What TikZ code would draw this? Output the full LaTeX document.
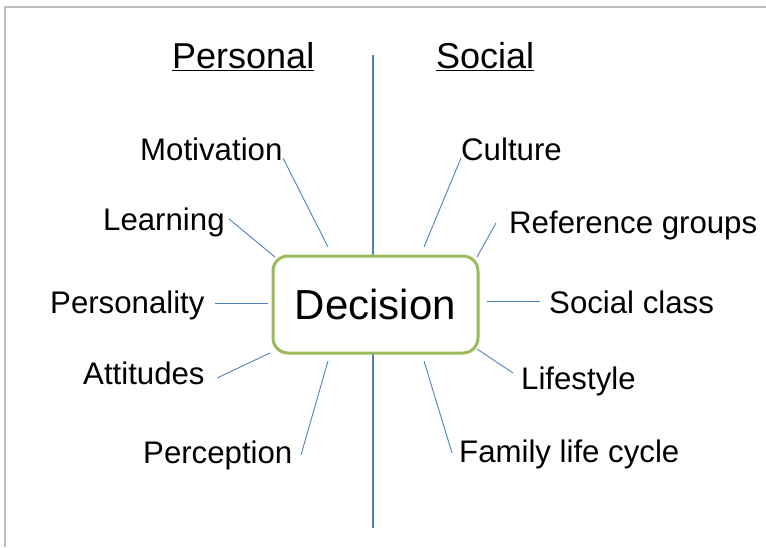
\documentclass[tikz,border=0pt]{standalone}
\usepackage{fontspec}
\setmainfont{Liberation Sans}
\definecolor{frameGray}{RGB}{190,190,190}
\definecolor{spokeBlue}{RGB}{79,129,189}
\definecolor{boxGreen}{RGB}{155,187,89}
\begin{document}
\begin{tikzpicture}[x=1pt,y=-1pt,
  label/.style={anchor=base west,inner sep=0pt,font=\fontsize{31.2}{36}\selectfont},
  heading/.style={anchor=base west,inner sep=0pt,font=\fontsize{36}{42}\selectfont},
  spoke/.style={draw=spokeBlue,line width=0.9pt},
  axis/.style={draw=spokeBlue,line width=1.4pt},
  centerbox/.style={draw=boxGreen,line width=3pt,fill=white,rounded corners=15pt,
    minimum width=205pt,minimum height=97pt,inner sep=0pt,
    font=\fontsize{42}{48}\selectfont}]
\useasboundingbox (0,0) rectangle (766,547);
% partial page frame
\draw[frameGray,line width=2pt] (5,547) -- (5,6.5) -- (766,6.5);

% dividing axis
\coordinate (axtop) at (373,55);
\coordinate (axbot) at (373,528);
\path[axis] (axtop) -- (axbot);

% column headings
\node[heading] (personal) at (172,68) {\underline{Personal}};
\node[heading] (social) at (436,68) {\underline{Social}};

% central decision box
\node[centerbox] (dec) at (375.5,304.5) {\raisebox{-2pt}{Decision}};

% personal factors
\node[label] (motivation) at (140,160) {Motivation};
\node[label] (learning) at (103,230) {Learning};
\node[label] (personality) at (50,313) {Personality};
\node[label] (attitudes) at (83,384) {Attitudes};
\node[label] (perception) at (143,463) {Perception};

% social factors
\node[label] (culture) at (461,160) {Culture};
\node[label] (refgroups) at (509,233) {Reference groups};
\node[label] (socclass) at (549,313) {Social class};
\node[label] (lifestyle) at (521,389) {Lifestyle};
\node[label] (family) at (459,462) {Family life cycle};

% spoke end points
\coordinate (m1) at (283,158); \coordinate (m2) at (328,247);
\coordinate (l1) at (229,219); \coordinate (l2) at (275,257);
\coordinate (p1) at (215,303); \coordinate (p2) at (268,303);
\coordinate (a1) at (217,378); \coordinate (a2) at (270,353);
\coordinate (e1) at (301,455); \coordinate (e2) at (328,361);
\coordinate (c1) at (461,158); \coordinate (c2) at (424,247);
\coordinate (r1) at (496,223); \coordinate (r2) at (477,257);
\coordinate (s1) at (540,301); \coordinate (s2) at (487,301);
\coordinate (y1) at (513,373); \coordinate (y2) at (477,349);
\coordinate (f1) at (452,453); \coordinate (f2) at (424,361);

\path[spoke] (m1) -- (m2);
\path[spoke] (l1) -- (l2);
\path[spoke] (p1) -- (p2);
\path[spoke] (a1) -- (a2);
\path[spoke] (e1) -- (e2);
\path[spoke] (c1) -- (c2);
\path[spoke] (r1) -- (r2);
\path[spoke] (s1) -- (s2);
\path[spoke] (y1) -- (y2);
\path[spoke] (f1) -- (f2);
\end{tikzpicture}
\end{document}
